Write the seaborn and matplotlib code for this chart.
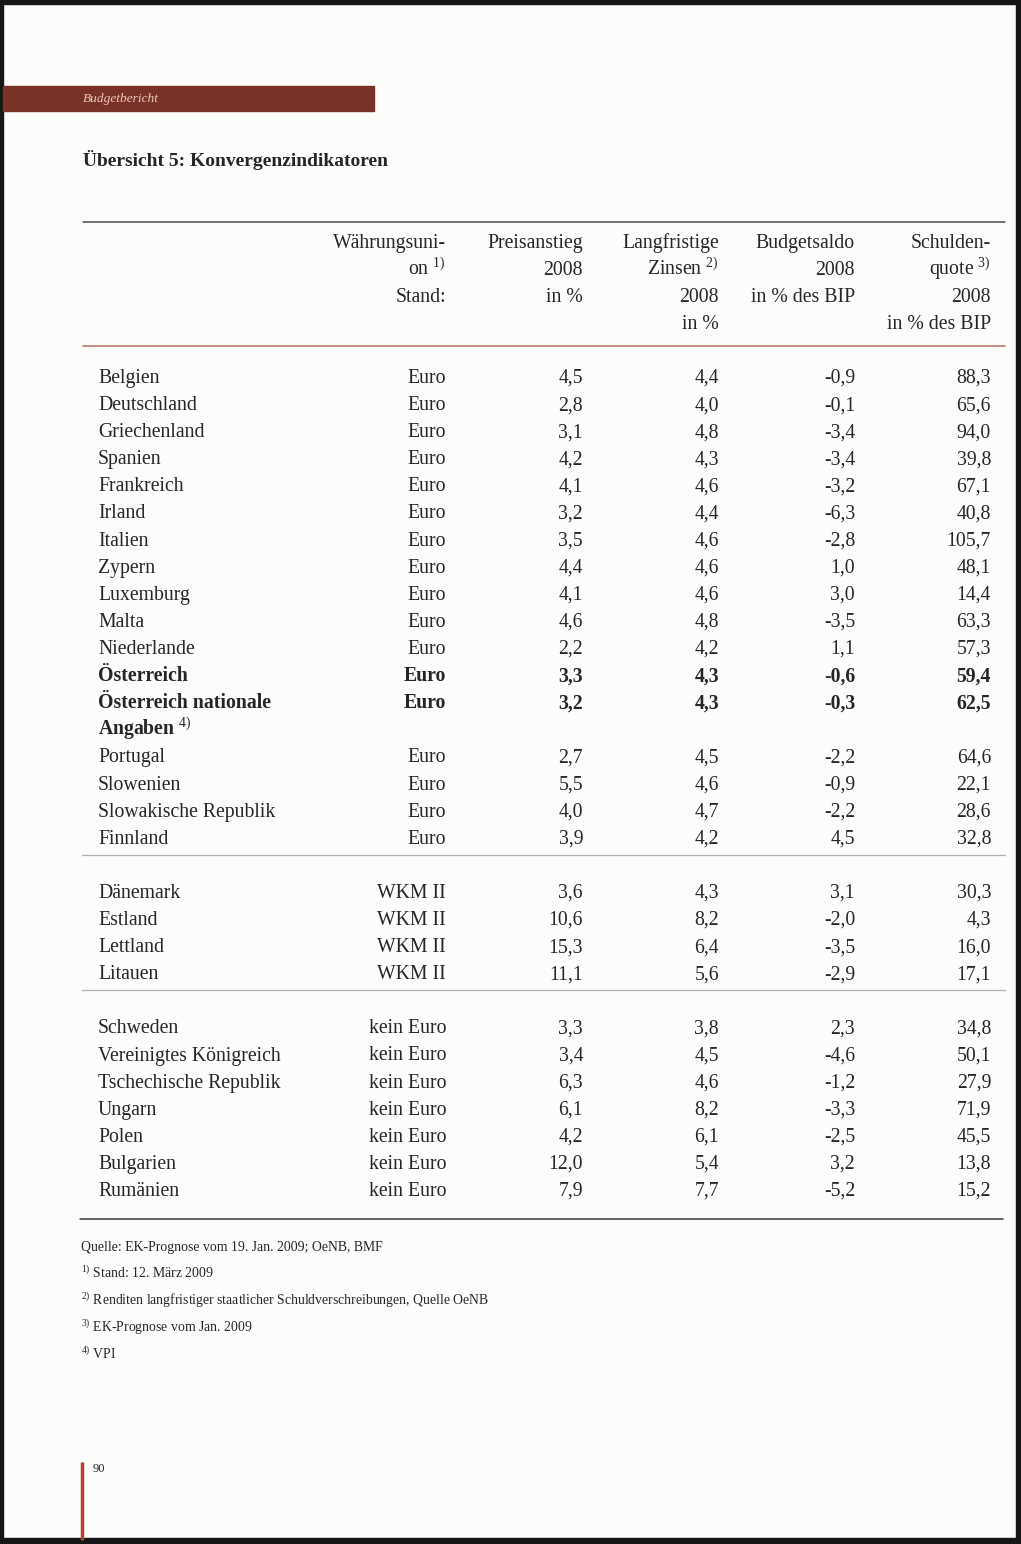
import matplotlib
matplotlib.use("Agg")
import matplotlib.pyplot as plt
import seaborn as sns
from matplotlib.patches import Rectangle

# Daten: Übersicht 5 Konvergenzindikatoren
laender_euro = ["Belgien", "Deutschland", "Griechenland", "Spanien", "Frankreich",
                "Irland", "Italien", "Zypern", "Luxemburg", "Malta", "Niederlande",
                "Österreich", "Österreich nationale\nAngaben $^{\\mathrm{4)}}$",
                "Portugal", "Slowenien", "Slowakische Republik", "Finnland"]
preis_euro = [4.5, 2.8, 3.1, 4.2, 4.1, 3.2, 3.5, 4.4, 4.1, 4.6, 2.2, 3.3, 3.2, 2.7, 5.5, 4.0, 3.9]
zinsen_euro = [4.4, 4.0, 4.8, 4.3, 4.6, 4.4, 4.6, 4.6, 4.6, 4.8, 4.2, 4.3, 4.3, 4.5, 4.6, 4.7, 4.2]
saldo_euro = [-0.9, -0.1, -3.4, -3.4, -3.2, -6.3, -2.8, 1.0, 3.0, -3.5, 1.1, -0.6, -0.3, -2.2, -0.9, -2.2, 4.5]
schulden_euro = [88.3, 65.6, 94.0, 39.8, 67.1, 40.8, 105.7, 48.1, 14.4, 63.3, 57.3, 59.4, 62.5, 64.6, 22.1, 28.6, 32.8]
fett_euro = ["Österreich", "Österreich nationale\nAngaben $^{\\mathrm{4)}}$"]

laender_wkm = ["Dänemark", "Estland", "Lettland", "Litauen"]
preis_wkm = [3.6, 10.6, 15.3, 11.1]
zinsen_wkm = [4.3, 8.2, 6.4, 5.6]
saldo_wkm = [3.1, -2.0, -3.5, -2.9]
schulden_wkm = [30.3, 4.3, 16.0, 17.1]

laender_kein = ["Schweden", "Vereinigtes Königreich", "Tschechische Republik", "Ungarn",
                "Polen", "Bulgarien", "Rumänien"]
preis_kein = [3.3, 3.4, 6.3, 6.1, 4.2, 12.0, 7.9]
zinsen_kein = [3.8, 4.5, 4.6, 8.2, 6.1, 5.4, 7.7]
saldo_kein = [2.3, -4.6, -1.2, -3.3, -2.5, 3.2, -5.2]
schulden_kein = [34.8, 50.1, 27.9, 71.9, 45.5, 13.8, 15.2]

gruppen = [("Euro", laender_euro, preis_euro, zinsen_euro, saldo_euro, schulden_euro),
           ("WKM II", laender_wkm, preis_wkm, zinsen_wkm, saldo_wkm, schulden_wkm),
           ("kein Euro", laender_kein, preis_kein, zinsen_kein, saldo_kein, schulden_kein)]

kopf = ["Währungsuni-\non $^{\\mathrm{1)}}$\nStand:",
        "Preisanstieg\n2008\nin %",
        "Langfristige\nZinsen $^{\\mathrm{2)}}$\n2008\nin %",
        "Budgetsaldo\n2008\nin % des BIP",
        "Schulden-\nquote $^{\\mathrm{3)}}$\n2008\nin % des BIP"]

fussnoten = ["Quelle: EK-Prognose vom 19. Jan. 2009; OeNB, BMF",
             "${}^{\\mathrm{1)}}$ Stand: 12. März 2009",
             "${}^{\\mathrm{2)}}$ Renditen langfristiger staatlicher Schuldverschreibungen, Quelle OeNB",
             "${}^{\\mathrm{3)}}$ EK-Prognose vom Jan. 2009",
             "${}^{\\mathrm{4)}}$ VPI"]

sns.set_theme(style="white")
plt.rcParams["font.family"] = ["Liberation Serif", "DejaVu Serif"]
plt.rcParams["mathtext.fontset"] = "custom"
plt.rcParams["mathtext.rm"] = "Liberation Serif"
plt.rcParams["mathtext.it"] = "Liberation Serif:italic"
plt.rcParams["mathtext.bf"] = "Liberation Serif:bold"

W, H = 1021, 1544
fig = plt.figure(figsize=(W / 100, H / 100), dpi=100)
fig.patch.set_facecolor("#fcfcfb")
ax = fig.add_axes([0, 0, 1, 1])
ax.set_xlim(0, W)
ax.set_ylim(H, 0)
ax.axis("off")

ink = "#262626"
fs = 14.2

# Seitenrand (Scan)
ax.add_patch(Rectangle((0, 0), W, 4, color="#161616"))
ax.add_patch(Rectangle((0, 0), 3, H, color="#161616"))
ax.add_patch(Rectangle((1016, 0), 5, H, color="#161616"))
ax.add_patch(Rectangle((0, 1538), W, 6, color="#161616"))

# Kopfband
ax.add_patch(Rectangle((3, 86), 371, 25, color="#7a3226"))
ax.text(83, 99, "Budgetbericht", fontsize=9.6, style="italic", color="#e9c9c1", va="center")

ax.text(83, 166, "Übersicht 5: Konvergenzindikatoren", fontsize=14.0, fontweight="bold",
        color=ink, va="baseline")

# Linien
ax.plot([83, 1005], [222, 222], color="#4a4a4a", lw=1.1)
ax.plot([83, 1005], [346, 346], color="#b5705f", lw=1.1)

# Spaltenköpfe
spalten_x = [446, 583, 719, 855, 991]
kopf_y0, zeile = 248, 27.1
for x, txt in zip(spalten_x, kopf):
    for i, part in enumerate(txt.split("\n")):
        ax.text(x, kopf_y0 + i * zeile, part, ha="right", va="baseline", fontsize=fs, color=ink)

# Tabellenzeilen
y0 = 383
zeile_nr = 0
trenner = []
for g, (status, laender, preis, zinsen, saldo, schulden) in enumerate(gruppen):
    for land, p, z, s, q in zip(laender, preis, zinsen, saldo, schulden):
        y = y0 + zeile_nr * zeile
        fw = "bold" if land in fett_euro else "normal"
        for k, part in enumerate(land.split("\n")):
            ax.text(98, y + k * zeile, part, ha="left", va="baseline", fontsize=fs,
                    color=ink, fontweight=fw)
        werte = [status] + [f"{v:.1f}".replace(".", ",") for v in (p, z, s, q)]
        for x, w in zip(spalten_x, werte):
            ax.text(x, y, w, ha="right", va="baseline", fontsize=fs, color=ink, fontweight=fw)
        zeile_nr += land.count("\n") + 1
    trenner.append(y0 + (zeile_nr - 1) * zeile + 11)
    zeile_nr += 1

for t in trenner[:-1]:
    ax.plot([82, 1005], [t, t], color="#b0b0b0", lw=0.9)
ax.plot([80, 1003], [trenner[-1] + 12, trenner[-1] + 12], color="#3a3a3a", lw=1.1)

# Fußnoten
for i, f in enumerate(fussnoten):
    ax.text(81, 1251 + i * 27, f, fontsize=9.9, color=ink, va="baseline")

# Seitenzahl
ax.plot([81.5, 81.5], [1462, 1540], color="#b4402e", lw=2.5, solid_capstyle="butt")
ax.text(93, 1472, "90", fontsize=9, color=ink, va="baseline")

fig.savefig("out.png", dpi=100, facecolor=fig.get_facecolor())
